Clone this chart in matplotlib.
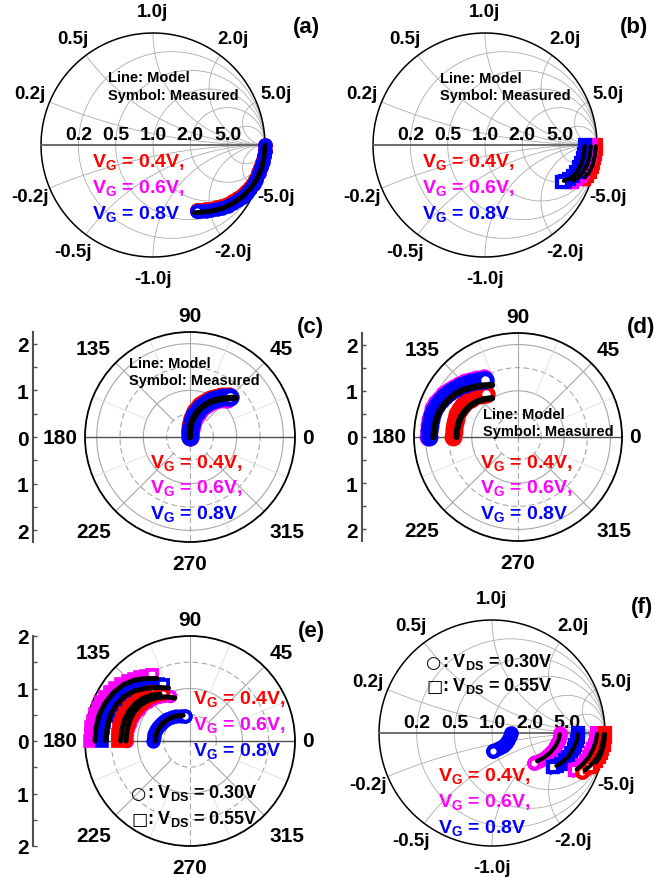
import numpy as np
import matplotlib
matplotlib.use('Agg')
from matplotlib import pyplot as plt

plt.rcParams['font.family'] = ['Liberation Sans', 'DejaVu Sans']
plt.rcParams['font.weight'] = 'bold'
plt.rcParams['mathtext.fontset'] = 'custom'
plt.rcParams['mathtext.rm'] = 'Liberation Sans:bold'
plt.rcParams['mathtext.it'] = 'Liberation Sans:bold'
plt.rcParams['mathtext.bf'] = 'Liberation Sans:bold'
plt.rcParams['mathtext.default'] = 'rm'

RED, MAG, BLUE = '#ff0000', '#ff00ff', '#0000ff'

# ---- (a) Smith chart, real / imag parts, circles ----
a_re_04 = [1.00, 0.996, 0.988, 0.975, 0.958, 0.94, 0.915, 0.893, 0.862, 0.828, 0.791, 0.75, 0.706, 0.66, 0.61, 0.56, 0.51, 0.462, 0.415, 0.395]
a_im_04 = [0.00, -0.05, -0.10, -0.148, -0.197, -0.245, -0.30, -0.34, -0.378, -0.412, -0.446, -0.476, -0.504, -0.526, -0.544, -0.558, -0.567, -0.573, -0.577, -0.578]
a_re_06 = [1.00, 0.997, 0.989, 0.976, 0.96, 0.942, 0.917, 0.896, 0.866, 0.832, 0.796, 0.756, 0.712, 0.666, 0.616, 0.566, 0.516, 0.466, 0.418, 0.392]
a_im_06 = [0.00, -0.05, -0.10, -0.15, -0.20, -0.248, -0.305, -0.345, -0.385, -0.42, -0.454, -0.484, -0.513, -0.535, -0.553, -0.566, -0.575, -0.581, -0.585, -0.586]
a_re_08 = [1.00, 0.998, 0.99, 0.978, 0.962, 0.945, 0.92, 0.90, 0.87, 0.836, 0.80, 0.76, 0.716, 0.67, 0.62, 0.57, 0.52, 0.47, 0.42, 0.39]
a_im_08 = [0.00, -0.05, -0.10, -0.15, -0.20, -0.25, -0.31, -0.35, -0.39, -0.425, -0.46, -0.49, -0.52, -0.542, -0.56, -0.573, -0.582, -0.588, -0.592, -0.592]
a_mod_re = [1.00, 0.99, 0.965, 0.925, 0.87, 0.80, 0.716, 0.62, 0.52, 0.43, 0.37]
a_mod_im = [0.00, -0.12, -0.22, -0.31, -0.39, -0.46, -0.52, -0.565, -0.59, -0.60, -0.605]

# ---- (b) Smith chart, squares ----
b_re_04 = [0.99, 0.988, 0.984, 0.977, 0.967, 0.953, 0.934, 0.91, 0.88]
b_im_04 = [0.0, -0.04, -0.08, -0.12, -0.16, -0.20, -0.24, -0.275, -0.30]
b_re_06 = [0.946, 0.943, 0.937, 0.928, 0.915, 0.897, 0.874, 0.846, 0.812, 0.777]
b_im_06 = [0.0, -0.04, -0.08, -0.12, -0.16, -0.20, -0.24, -0.275, -0.305, -0.33]
b_re_08 = [0.896, 0.893, 0.886, 0.875, 0.86, 0.84, 0.815, 0.785, 0.75, 0.715, 0.688]
b_im_08 = [0.0, -0.04, -0.08, -0.12, -0.16, -0.20, -0.24, -0.275, -0.305, -0.325, -0.33]
b_mod_re_04 = [0.99, 0.98, 0.96, 0.93, 0.89]
b_mod_im_04 = [-0.01, -0.10, -0.18, -0.245, -0.29]
b_mod_re_06 = [0.945, 0.935, 0.91, 0.87, 0.82, 0.79]
b_mod_im_06 = [-0.01, -0.10, -0.18, -0.25, -0.295, -0.315]
b_mod_re_08 = [0.89, 0.88, 0.855, 0.815, 0.76, 0.705]
b_mod_im_08 = [-0.01, -0.10, -0.18, -0.25, -0.30, -0.32]

# ---- (c) polar, circles ----
c_re_04 = [-0.01, -0.01, -0.005, 0.005, 0.02, 0.045, 0.075, 0.115, 0.165, 0.22, 0.285, 0.355, 0.43, 0.51, 0.59, 0.67, 0.75, 0.83]
c_im_04 = [0.0, 0.08, 0.16, 0.245, 0.33, 0.41, 0.485, 0.555, 0.62, 0.68, 0.73, 0.775, 0.81, 0.84, 0.86, 0.875, 0.88, 0.88]
c_re_06 = [0.0, 0.01, 0.02, 0.035, 0.055, 0.085, 0.12, 0.165, 0.215, 0.275, 0.34, 0.41, 0.485, 0.56, 0.64, 0.72, 0.80]
c_im_06 = [0.0, 0.08, 0.16, 0.24, 0.315, 0.39, 0.46, 0.525, 0.585, 0.64, 0.69, 0.73, 0.765, 0.79, 0.81, 0.82, 0.825]
c_re_08 = [0.0, 0.0, 0.005, 0.015, 0.035, 0.06, 0.095, 0.14, 0.19, 0.25, 0.32, 0.39, 0.47, 0.55, 0.63, 0.71, 0.79, 0.86]
c_im_08 = [0.0, 0.08, 0.16, 0.24, 0.32, 0.40, 0.47, 0.54, 0.60, 0.66, 0.71, 0.75, 0.79, 0.82, 0.84, 0.855, 0.86, 0.86]
c_mod_re = [0.0, 0.0, 0.03, 0.09, 0.17, 0.28, 0.41, 0.55, 0.70, 0.85, 0.98]
c_mod_im = [0.0, 0.15, 0.30, 0.44, 0.56, 0.66, 0.74, 0.79, 0.82, 0.835, 0.84]

# ---- (d) polar, circles ----
d_re_04 = [-1.40, -1.395, -1.385, -1.37, -1.345, -1.31, -1.26, -1.19, -1.11, -1.02, -0.92, -0.81, -0.70]
d_im_04 = [0.0, 0.1, 0.2, 0.3, 0.4, 0.5, 0.6, 0.69, 0.77, 0.83, 0.88, 0.915, 0.935]
d_re_06 = [-1.94, -1.935, -1.92, -1.90, -1.87, -1.83, -1.77, -1.69, -1.60, -1.50, -1.39, -1.27, -1.15, -1.03, -0.91, -0.80, -0.74]
d_im_06 = [0.0, 0.12, 0.25, 0.38, 0.50, 0.62, 0.73, 0.83, 0.92, 1.00, 1.07, 1.13, 1.18, 1.22, 1.25, 1.265, 1.27]
d_re_08 = [-1.92, -1.915, -1.90, -1.88, -1.85, -1.81, -1.75, -1.67, -1.58, -1.48, -1.37, -1.25, -1.13, -1.01, -0.89, -0.78, -0.72]
d_im_08 = [0.0, 0.12, 0.24, 0.36, 0.48, 0.59, 0.70, 0.80, 0.89, 0.97, 1.04, 1.10, 1.15, 1.19, 1.22, 1.235, 1.24]
d_mod_re_04 = [-1.33, -1.32, -1.29, -1.23, -1.14, -1.03, -0.90, -0.74, -0.56]
d_mod_im_04 = [0.0, 0.15, 0.30, 0.44, 0.57, 0.68, 0.76, 0.815, 0.84]
d_mod_re_08 = [-1.83, -1.81, -1.77, -1.70, -1.60, -1.48, -1.34, -1.18, -1.0, -0.80, -0.56]
d_mod_im_08 = [0.0, 0.2, 0.38, 0.55, 0.70, 0.83, 0.94, 1.02, 1.07, 1.11, 1.125]

# ---- (e) polar, circles (V_DS = 0.30 V) and squares (V_DS = 0.55 V) ----
e_re_04s = [-1.38, -1.375, -1.36, -1.33, -1.29, -1.24, -1.17, -1.09, -1.00, -0.90, -0.79, -0.67]
e_im_04s = [0.0, 0.11, 0.22, 0.33, 0.44, 0.54, 0.63, 0.71, 0.78, 0.84, 0.89, 0.93]
e_re_06s = [-1.90, -1.895, -1.88, -1.85, -1.81, -1.76, -1.69, -1.61, -1.52, -1.42, -1.31, -1.19, -1.07, -0.95, -0.83, -0.73]
e_im_06s = [0.0, 0.13, 0.26, 0.39, 0.51, 0.63, 0.74, 0.84, 0.93, 1.01, 1.08, 1.14, 1.19, 1.22, 1.24, 1.25]
e_re_08s = [-1.68, -1.675, -1.66, -1.63, -1.59, -1.54, -1.47, -1.39, -1.30, -1.20, -1.09, -0.97, -0.85, -0.73, -0.61, -0.51]
e_im_08s = [0.0, 0.12, 0.24, 0.36, 0.47, 0.58, 0.68, 0.77, 0.85, 0.92, 0.98, 1.02, 1.05, 1.07, 1.08, 1.07]
e_re_04c = [-1.22, -1.215, -1.20, -1.17, -1.13, -1.07, -1.0, -0.92, -0.83, -0.73, -0.62, -0.51]
e_im_04c = [0.0, 0.11, 0.22, 0.33, 0.43, 0.53, 0.62, 0.70, 0.77, 0.83, 0.87, 0.90]
e_re_06c = [-1.20, -1.195, -1.18, -1.15, -1.10, -1.04, -0.97, -0.89, -0.80, -0.70, -0.60, -0.49, -0.38]
e_im_06c = [0.0, 0.11, 0.22, 0.32, 0.42, 0.51, 0.60, 0.68, 0.74, 0.80, 0.84, 0.86, 0.86]
e_re_08c = [-0.70, -0.695, -0.68, -0.65, -0.61, -0.56, -0.50, -0.43, -0.35, -0.27, -0.18, -0.10]
e_im_08c = [0.0, 0.07, 0.14, 0.21, 0.27, 0.33, 0.38, 0.42, 0.45, 0.47, 0.48, 0.48]
e_mod_re_04s = [-1.32, -1.30, -1.25, -1.16, -1.04, -0.90, -0.74, -0.57]
e_mod_im_04s = [0.0, 0.2, 0.4, 0.57, 0.71, 0.81, 0.87, 0.89]
e_mod_re_06s = [-1.81, -1.79, -1.73, -1.62, -1.46, -1.27, -1.06, -0.84, -0.63]
e_mod_im_06s = [0.0, 0.25, 0.50, 0.72, 0.92, 1.07, 1.16, 1.19, 1.19]
e_mod_re_08s = [-1.60, -1.58, -1.52, -1.41, -1.26, -1.07, -0.86, -0.64, -0.41]
e_mod_im_08s = [0.0, 0.25, 0.48, 0.68, 0.84, 0.95, 1.0, 1.02, 1.01]
e_mod_re_c = [-1.22, -1.20, -1.15, -1.06, -0.94, -0.79, -0.63, -0.46, -0.29]
e_mod_im_c = [0.0, 0.2, 0.39, 0.56, 0.69, 0.78, 0.83, 0.84, 0.82]
e_mod_re_08c = [-0.66, -0.65, -0.61, -0.55, -0.47, -0.37, -0.25, -0.13]
e_mod_im_08c = [0.0, 0.1, 0.21, 0.30, 0.38, 0.44, 0.48, 0.49]

# ---- (f) Smith chart, circles and squares ----
f_re_04c = [0.99, 0.988, 0.983, 0.975, 0.963, 0.947, 0.926, 0.90, 0.87, 0.835, 0.80]
f_im_04c = [0.0, -0.035, -0.07, -0.105, -0.14, -0.18, -0.215, -0.25, -0.285, -0.32, -0.345]
f_re_06c = [0.60, 0.598, 0.59, 0.577, 0.56, 0.54, 0.515, 0.485, 0.45, 0.415, 0.38, 0.37]
f_im_06c = [0.0, -0.03, -0.06, -0.09, -0.12, -0.15, -0.18, -0.205, -0.23, -0.248, -0.26, -0.262]
f_re_08c = [0.165, 0.16, 0.145, 0.125, 0.095, 0.06, 0.025, 0.005]
f_im_08c = [0.0, -0.03, -0.06, -0.09, -0.115, -0.135, -0.15, -0.155]
f_re_04s = [1.0, 0.998, 0.994, 0.987, 0.977, 0.963, 0.945, 0.922, 0.895, 0.865]
f_im_04s = [0.0, -0.035, -0.07, -0.105, -0.14, -0.175, -0.21, -0.245, -0.275, -0.30]
f_re_06s = [0.93, 0.928, 0.922, 0.912, 0.898, 0.88, 0.856, 0.828, 0.796, 0.76, 0.735]
f_im_06s = [0.0, -0.035, -0.07, -0.105, -0.14, -0.18, -0.215, -0.25, -0.285, -0.315, -0.33]
f_re_08s = [0.76, 0.757, 0.75, 0.738, 0.722, 0.70, 0.675, 0.645, 0.61, 0.575, 0.54]
f_im_08s = [0.0, -0.035, -0.07, -0.105, -0.14, -0.175, -0.21, -0.24, -0.27, -0.29, -0.305]
f_mod_re_04c = [0.99, 0.98, 0.96, 0.92, 0.87, 0.82]
f_mod_im_04c = [-0.01, -0.08, -0.16, -0.23, -0.29, -0.33]
f_mod_re_04s = [1.0, 0.995, 0.98, 0.955, 0.92]
f_mod_im_04s = [-0.01, -0.07, -0.14, -0.21, -0.26]
f_mod_re_06c = [0.60, 0.59, 0.56, 0.51, 0.45, 0.40]
f_mod_im_06c = [-0.01, -0.06, -0.12, -0.18, -0.225, -0.25]
f_mod_re_06s = [0.93, 0.92, 0.895, 0.855, 0.80, 0.75]
f_mod_im_06s = [-0.01, -0.07, -0.14, -0.215, -0.28, -0.32]
f_mod_re_08s = [0.76, 0.75, 0.72, 0.675, 0.62, 0.57]
f_mod_im_08s = [-0.01, -0.07, -0.14, -0.21, -0.26, -0.29]

# axis ticks / labels
smith_r_ticks = [0.2, 0.5, 1.0, 2.0, 5.0]
smith_r_labels = ['0.2', '0.5', '1.0', '2.0', '5.0']
smith_x_ticks = [1.0, 0.5, 2.0, 0.2, 5.0, -0.2, -5.0, -0.5, -2.0, -1.0]
smith_x_labels = ['1.0j', '0.5j', '2.0j', '0.2j', '5.0j', '-0.2j', '-5.0j', '-0.5j', '-2.0j', '-1.0j']
polar_angles = [0, 45, 90, 135, 180, 225, 270, 315]
polar_r_ticks = [-2, -1, 0, 1, 2]
polar_r_labels = ['2', '1', '0', '1', '2']
vg_labels = [r'V$_{\rm G}$ = 0.4V,', r'V$_{\rm G}$ = 0.6V,', r'V$_{\rm G}$ = 0.8V']
vds_symbols = ['○', '□']
vds_labels = [r': V$_{\rm DS}$ = 0.30V', r': V$_{\rm DS}$ = 0.55V']

W, H = 655, 878
fig = plt.figure(figsize=(W / 100, H / 100), dpi=100)


def ftext(x, y, s, color='black', size=14, ha='left', va='baseline', **kw):
    # x, y in pixels from the top-left corner
    fig.text(x / W, 1 - y / H, s, color=color, fontsize=size, ha=ha, va=va, fontweight='bold', **kw)


def vds_legend(x, y0, dy):
    for k in range(2):
        ftext(x, y0 + dy * k + 1, vds_symbols[k], size=12.5, family=['DejaVu Sans'])
        ftext(x + 16, y0 + dy * k, vds_labels[k], size=13)


def smith_axes(cx, cy, rad):
    lim = 1.42
    half = lim * rad
    ax = fig.add_axes([(cx - half) / W, (H - cy - half) / H, 2 * half / W, 2 * half / H])
    ax.set_xlim(-lim, lim)
    ax.set_ylim(-lim, lim)
    ax.axis('off')
    t = np.linspace(0, 2 * np.pi, 400)
    for r in smith_r_ticks:
        c, rr = r / (1 + r), 1 / (1 + r)
        ax.plot(c + rr * np.cos(t), rr * np.sin(t), color='#acacac', lw=0.6, zorder=1)
    res = np.concatenate([np.linspace(0, 1, 60), np.logspace(0, 3, 200)])
    for x in smith_x_ticks:
        g = (res + 1j * x - 1) / (res + 1j * x + 1)
        ax.plot(g.real, g.imag, color='#acacac', lw=0.6, zorder=1)
    ax.plot(np.cos(t), np.sin(t), color='black', lw=1.1, zorder=2)
    ax.plot([-1, 1], [0, 0], color='#606060', lw=1.3, zorder=2)
    for r, lab in zip(smith_r_ticks, smith_r_labels):
        ax.text((r - 1) / (r + 1), 0.095, lab, ha='center', va='center', fontsize=14)
    for x, lab in zip(smith_x_ticks, smith_x_labels):
        a = np.angle((1j * x - 1) / (1j * x + 1))
        ax.text(1.19 * np.cos(a), 1.19 * np.sin(a), lab, ha='center', va='center', fontsize=13.5)
    return ax


def polar_axes(cx, cy, rad, rmax, scale_x):
    ax = fig.add_axes([(cx - rad) / W, (H - cy - rad) / H, 2 * rad / W, 2 * rad / H],
                      projection='polar')
    ax.set_ylim(0, rmax)
    ax.set_xticks([])
    ax.set_yticks([])
    ax.grid(False)
    ax.spines['polar'].set_linewidth(1.3)
    t = np.linspace(0, 2 * np.pi, 361)
    for r in [0.5, 1.0, 1.5, 2.0]:
        if r < rmax - 0.01:
            ls = '-' if r in (1.0, 2.0) else (0, (5, 3))
            ax.plot(t, np.full_like(t, r), color='#a8a8a8', lw=0.8, ls=ls, zorder=1)
    for deg in np.arange(22.5, 360, 45):
        th = np.deg2rad(deg)
        ax.plot([th, th], [1.0, rmax], color='#e2e2e2', lw=0.7, zorder=1)
    for deg in [45, 135, 225, 315]:
        th = np.deg2rad(deg)
        ax.plot([th, th], [0.5, rmax], color='#a8a8a8', lw=0.8, zorder=1)
    ax.plot([np.pi / 2] * 2, [0, rmax], color='#a8a8a8', lw=0.8, zorder=1)
    ax.plot([3 * np.pi / 2] * 2, [0, rmax], color='#a8a8a8', lw=0.8, ls=(0, (5, 3)), zorder=1)
    ax.plot([0, 0], [0, rmax], color='#505050', lw=1.0, zorder=1)
    ax.plot([np.pi, np.pi], [0, rmax], color='#505050', lw=1.0, zorder=1)
    for deg in polar_angles:
        th = np.deg2rad(deg)
        c, s = np.cos(th), np.sin(th)
        ha = 'left' if c > 0.1 else ('right' if c < -0.1 else 'center')
        va = 'bottom' if s > 0.1 else ('top' if s < -0.1 else 'center')
        dy = 5 * s - (4 if s < -0.1 else 0)
        ax.annotate(str(deg), xy=(th, rmax), xytext=(5 * c, dy), textcoords='offset points',
                    ha=ha, va=va, fontsize=15, annotation_clip=False)
    # radial scale drawn at the left
    sa = fig.add_axes([scale_x / W, (H - cy - rad) / H, 0.002, 2 * rad / H])
    sa.patch.set_visible(False)
    sa.set_ylim(-rmax, rmax)
    sa.set_xticks([])
    for s in ['top', 'right', 'bottom']:
        sa.spines[s].set_visible(False)
    sa.spines['left'].set_color('#505050')
    sa.spines['left'].set_linewidth(1.5)
    sa.set_yticks(polar_r_ticks)
    sa.set_yticklabels(polar_r_labels)
    sa.set_yticks([-1.5, -0.5, 0.5, 1.5], minor=True)
    sa.tick_params(axis='y', which='both', direction='in', length=3, width=1, color='#505050',
                   labelsize=15, pad=3)
    return ax


def meas(ax, re, im, color, marker, polar=False, ms=7.5, mew=3.0):
    # measured points: dense open symbols that merge into a band, last one left open
    z = np.array(re) + 1j * np.array(im)
    if polar:
        x, y = np.angle(z), np.abs(z)
    else:
        x, y = z.real, z.imag
    cap = 'round' if marker == 'o' else 'projecting'
    ax.plot(x, y, color=color, lw=ms + mew - 1.5, solid_capstyle=cap, solid_joinstyle='round',
            zorder=3, clip_on=False)
    ax.plot(x, y, ls='none', marker=marker, ms=ms, mew=mew, mec=color, mfc='none',
            zorder=3, clip_on=False)
    ax.plot(x[-1:], y[-1:], ls='none', marker=marker, ms=ms, mew=mew, mec=color, mfc='white',
            zorder=3, clip_on=False)


def model(ax, re, im, polar=False, lw=3.5):
    z = np.array(re) + 1j * np.array(im)
    if polar:
        x, y = np.angle(z), np.abs(z)
    else:
        x, y = z.real, z.imag
    ax.plot(x, y, color='black', lw=lw, zorder=4, solid_capstyle='round')


# (a)
ax = smith_axes(153, 146, 112)
meas(ax, a_re_06, a_im_06, MAG, 'o')
meas(ax, a_re_04, a_im_04, RED, 'o')
meas(ax, a_re_08, a_im_08, BLUE, 'o')
model(ax, a_mod_re, a_mod_im)
ftext(108, 82, 'Line: Model', size=10.5)
ftext(108, 100, 'Symbol: Measured', size=10.5)
for k, (lab, col) in enumerate(zip(vg_labels, [RED, MAG, BLUE])):
    ftext(92, 167 + 26 * k, lab, col)
ftext(306, 27, '(a)', size=16, ha='center', va='center')

# (b)
ax = smith_axes(485, 146, 112)
meas(ax, b_re_04, b_im_04, RED, 's', ms=7)
meas(ax, b_re_06, b_im_06, MAG, 's', ms=7)
meas(ax, b_re_08, b_im_08, BLUE, 's', ms=7)
model(ax, b_mod_re_04, b_mod_im_04, lw=3)
model(ax, b_mod_re_06, b_mod_im_06, lw=3)
model(ax, b_mod_re_08, b_mod_im_08, lw=3)
ftext(440, 83, 'Line: Model', size=10.5)
ftext(440, 100, 'Symbol: Measured', size=10.5)
for k, (lab, col) in enumerate(zip(vg_labels, [RED, MAG, BLUE])):
    ftext(422, 167 + 26 * k, lab, col)
ftext(634, 27, '(b)', size=16, ha='center', va='center')

# (c)
ax = polar_axes(190, 438, 105, 2.25, 33)
meas(ax, c_re_04, c_im_04, RED, 'o', polar=True, ms=9.5, mew=3.4)
meas(ax, c_re_06, c_im_06, MAG, 'o', polar=True, ms=9.5, mew=3.4)
meas(ax, c_re_08, c_im_08, BLUE, 'o', polar=True, ms=9.5, mew=3.4)
model(ax, c_mod_re, c_mod_im, polar=True, lw=4.5)
ftext(129, 368, 'Line: Model', size=10.5)
ftext(129, 385, 'Symbol: Measured', size=10.5)
for k, (lab, col) in enumerate(zip(vg_labels, [RED, MAG, BLUE])):
    ftext(150, 468 + 25.3 * k, lab, col)
ftext(310, 327, '(c)', size=16, ha='center', va='center')

# (d)
ax = polar_axes(518, 438, 104, 2.25, 362)
meas(ax, d_re_04, d_im_04, RED, 'o', polar=True, ms=9.5, mew=3.4)
meas(ax, d_re_06, d_im_06, MAG, 'o', polar=True, ms=9.5, mew=3.4)
meas(ax, d_re_08, d_im_08, BLUE, 'o', polar=True, ms=9.5, mew=3.4)
model(ax, d_mod_re_04, d_mod_im_04, polar=True, lw=4.5)
model(ax, d_mod_re_08, d_mod_im_08, polar=True, lw=4.5)
ftext(483, 419, 'Line: Model', size=10.5)
ftext(483, 436, 'Symbol: Measured', size=10.5)
for k, (lab, col) in enumerate(zip(vg_labels, [RED, MAG, BLUE])):
    ftext(480, 468 + 25.3 * k, lab, col)
ftext(641, 327, '(d)', size=16, ha='center', va='center')

# (e)
ax = polar_axes(190, 742, 105, 2.0, 33)
meas(ax, e_re_06s, e_im_06s, MAG, 's', polar=True, ms=6.5, mew=2.6)
meas(ax, e_re_08s, e_im_08s, BLUE, 's', polar=True, ms=6.5, mew=2.6)
meas(ax, e_re_04s, e_im_04s, RED, 's', polar=True, ms=6.5, mew=2.6)
meas(ax, e_re_06c, e_im_06c, MAG, 'o', polar=True, ms=7, mew=2.6)
meas(ax, e_re_04c, e_im_04c, RED, 'o', polar=True, ms=7, mew=2.6)
meas(ax, e_re_08c, e_im_08c, BLUE, 'o', polar=True, ms=7.5, mew=2.8)
for re, im in [(e_mod_re_06s, e_mod_im_06s), (e_mod_re_08s, e_mod_im_08s),
               (e_mod_re_04s, e_mod_im_04s), (e_mod_re_c, e_mod_im_c),
               (e_mod_re_08c, e_mod_im_08c)]:
    model(ax, re, im, polar=True, lw=3.6)
for k, (lab, col) in enumerate(zip(vg_labels, [RED, MAG, BLUE])):
    ftext(193, 704 + 26.2 * k, lab, col)
vds_legend(131, 798, 26)
ftext(311, 632, '(e)', size=16, ha='center', va='center')

# (f)
ax = smith_axes(492, 734, 113)
meas(ax, f_re_08c, f_im_08c, BLUE, 'o')
meas(ax, f_re_06c, f_im_06c, MAG, 'o')
meas(ax, f_re_08s, f_im_08s, BLUE, 's', ms=7)
meas(ax, f_re_06s, f_im_06s, MAG, 's', ms=7)
meas(ax, f_re_04c, f_im_04c, RED, 'o')
meas(ax, f_re_04s, f_im_04s, RED, 's', ms=7)
for re, im in [(f_mod_re_06c, f_mod_im_06c), (f_mod_re_08s, f_mod_im_08s),
               (f_mod_re_06s, f_mod_im_06s), (f_mod_re_04c, f_mod_im_04c),
               (f_mod_re_04s, f_mod_im_04s)]:
    model(ax, re, im, lw=3)
vds_legend(426, 667, 24)
for k, (lab, col) in enumerate(zip(vg_labels, [RED, MAG, BLUE])):
    ftext(438, 781 + 25.8 * k, lab, col)
ftext(642, 607, '(f)', size=16, ha='center', va='center')

fig.savefig('out.png', dpi=100)
